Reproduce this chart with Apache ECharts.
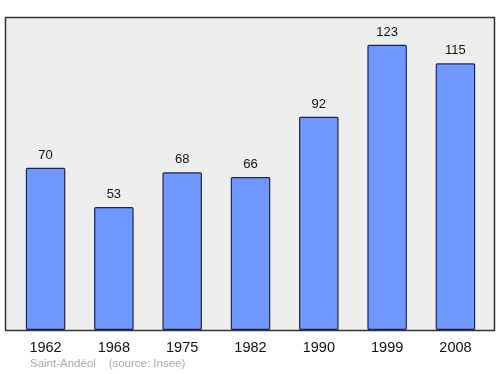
<!DOCTYPE html>
<html><head><meta charset="utf-8">
<script src="https://cdn.jsdelivr.net/npm/echarts@6/dist/echarts.min.js"></script>
<style>html,body{margin:0;padding:0;background:#fff}#c{width:500px;height:374px}</style>
</head><body><div id="c"></div>
<script>
const years = ['1962','1968','1975','1982','1990','1999','2008'];
const population = [70, 53, 68, 66, 92, 123, 115];
const footer = 'Saint-Andéol    (source: Insee)';

const chart = echarts.init(document.getElementById('c'), null, {renderer:'canvas'});
chart.setOption({
  animation:false,
  backgroundColor:'#ffffff',
  graphic:[
    {type:'rect', z:-1, shape:{x:5.5,y:17.5,width:489,height:313}, style:{fill:'#eeeeee', stroke:'#333333', lineWidth:1.5}},
    {type:'text', left:30, top:358, style:{text:footer, fill:'#aaaaaa', font:'11.5px "Liberation Sans", Arial, sans-serif'}}
  ],
  grid:{left:11.4, right:10.4, top:17, bottom:44},
  xAxis:{type:'category', data:years, axisLine:{show:false}, axisTick:{show:false},
    axisLabel:{color:'#111', fontSize:14.5, margin:10, fontFamily:'"Liberation Sans", Arial, sans-serif'}},
  yAxis:{type:'value', min:0, max:135, show:false, splitLine:{show:false}},
  series:[{type:'bar', data:population, barWidth:39.5,
    itemStyle:{color:'#7096ff', borderColor:'#1c2650', borderWidth:1.2, borderRadius:1},
    label:{show:true, position:'top', distance:6, color:'#111', fontSize:13, fontFamily:'"Liberation Sans", Arial, sans-serif'}
  }]
});
</script></body></html>
